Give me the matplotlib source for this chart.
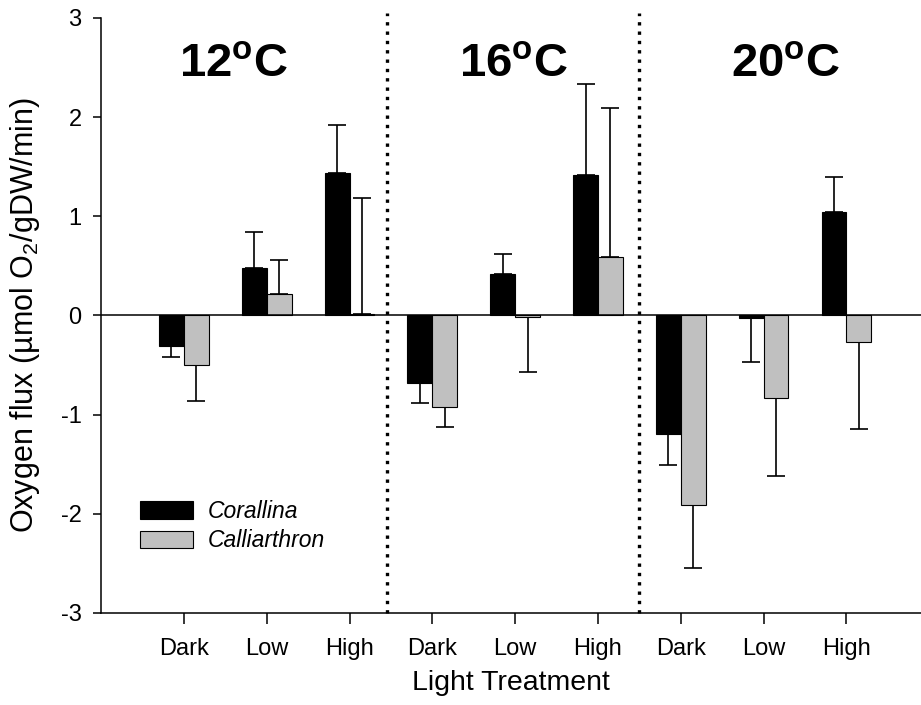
import numpy as np
import matplotlib
matplotlib.use("Agg")
import matplotlib.pyplot as plt

plt.rcParams['font.family'] = ['Liberation Sans', 'DejaVu Sans']
plt.rcParams['mathtext.fontset'] = 'custom'
plt.rcParams['mathtext.rm'] = 'Liberation Sans'
plt.rcParams['mathtext.it'] = 'Liberation Sans:italic'
plt.rcParams['mathtext.bf'] = 'Liberation Sans:bold'
plt.rcParams['axes.unicode_minus'] = False

# data
temps = ["12", "16", "20"]
lights = ["Dark", "Low", "High"]
corallina = [-0.31, 0.48, 1.435, -0.68, 0.42, 1.42, -1.195, -0.03, 1.04]
corallina_err = [0.11, 0.36, 0.49, 0.20, 0.20, 0.915, 0.31, 0.44, 0.355]
calliarthron = [-0.50, 0.22, 0.01, -0.92, -0.02, 0.59, -1.91, -0.83, -0.265]
calliarthron_err = [0.36, 0.335, 1.17, 0.20, 0.55, 1.50, 0.635, 0.79, 0.875]

def one_sided(vals, errs):
    vals = np.array(vals)
    errs = np.array(errs)
    lo = np.where(vals < 0, errs, 0)
    hi = np.where(vals >= 0, errs, 0)
    return [lo, hi]

x = np.arange(1, 10)
w = 0.3

fig = plt.figure(figsize=(9.21, 7.05), dpi=100)
ax = fig.add_axes([0.1097, 0.1305, 0.8903, 0.844])

ax.bar(x - w/2, corallina, w, color="black", edgecolor="black", linewidth=0.8,
       label="Corallina", zorder=3)
ax.bar(x + w/2, calliarthron, w, color="#c0c0c0", edgecolor="black", linewidth=0.8,
       label="Calliarthron", zorder=3)
ax.errorbar(x - w/2, corallina, yerr=one_sided(corallina, corallina_err), fmt="none",
            ecolor="black", elinewidth=1.2, capsize=6.5, capthick=1.2, zorder=2)
ax.errorbar(x + w/2, calliarthron, yerr=one_sided(calliarthron, calliarthron_err), fmt="none",
            ecolor="black", elinewidth=1.2, capsize=6.5, capthick=1.2, zorder=2)

ax.axhline(0, color="black", linewidth=1.1, zorder=4)
for xv in [3.45, 6.5]:
    ax.plot([xv, xv], [-3, 3.05], color="black", linewidth=2.4,
            linestyle=(0, (1, 1.8)), clip_on=False, zorder=5)

for t, xc in zip(temps, [1.6, 4.98, 8.26]):
    ax.text(xc, 2.405, t + r"$^{\mathbf{o}}$C", fontsize=34, fontweight="bold",
            ha="center", va="baseline")

ax.set_xlim(0, 9.9)
ax.set_ylim(-3, 3)
ax.set_xticks(x)
ax.set_xticklabels(lights * 3)
ax.set_yticks([-3, -2, -1, 0, 1, 2, 3])
ax.tick_params(axis="x", direction="out", length=8, width=1.1, pad=10, labelsize=17)
ax.tick_params(axis="y", direction="out", length=6, width=1.1, pad=8, labelsize=17)

for s in ["top", "right"]:
    ax.spines[s].set_visible(False)
for s in ["left", "bottom"]:
    ax.spines[s].set_linewidth(1.1)

ax.set_xlabel("Light Treatment", fontsize=20.5, labelpad=7)
ax.set_ylabel(r"Oxygen flux (µmol O$_2$/gDW/min)", fontsize=22)
ax.yaxis.set_label_coords(-0.072, 0.5)

leg = ax.legend(loc="upper left", bbox_to_anchor=(0.048, 0.19), frameon=False,
                prop={"size": 16.5, "style": "italic"}, handlelength=2.3,
                handleheight=0.8, handletextpad=0.65, labelspacing=0.28,
                borderpad=0, borderaxespad=0)

fig.savefig("out.png", dpi=100)
